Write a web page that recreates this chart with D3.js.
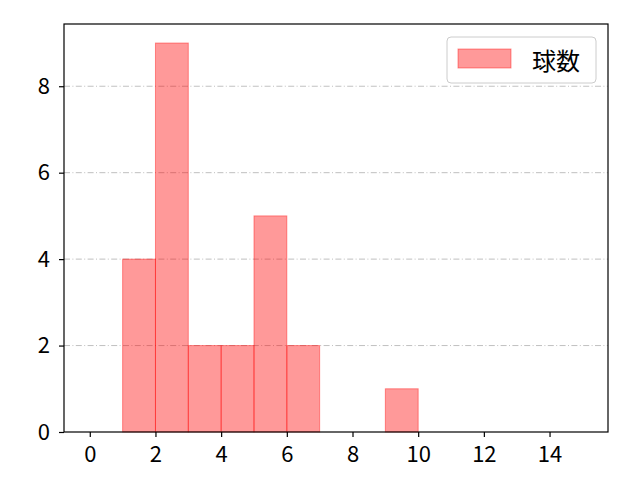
<!DOCTYPE html>
<html>
<head>
<meta charset="utf-8">
<script src="https://cdn.jsdelivr.net/npm/d3@7"></script>
<style>
  body { margin: 0; background: #fff; }
  text { font-family: "Noto Sans CJK JP", "DejaVu Sans", sans-serif; }
</style>
</head>
<body>
<svg id="chart"></svg>
<script>
// histogram bins (left edge, right edge) and counts
const binStarts = [1, 2, 3, 4, 5, 6, 9];
const binEnds = [2, 3, 4, 5, 6, 7, 10];
const counts = [4, 9, 2, 2, 5, 2, 1];
const xTicks = [0, 2, 4, 6, 8, 10, 12, 14];
const yTicks = [0, 2, 4, 6, 8];
const seriesName = '球数';

const width = 640;
const height = 480;
const margin = { top: 24, right: 32, bottom: 48, left: 64 };

const svg = d3.select('#chart')
  .attr('width', width)
  .attr('height', height);

const x = d3.scaleLinear()
  .domain([-0.785, 15.78])
  .range([margin.left, width - margin.right]);

const y = d3.scaleLinear()
  .domain([0, 9.44])
  .range([height - margin.bottom, margin.top]);

// grid (dash-dot)
svg.append('g')
  .selectAll('line')
  .data(yTicks.filter(d => d > 0))
  .join('line')
  .attr('x1', margin.left)
  .attr('x2', width - margin.right)
  .attr('y1', d => y(d))
  .attr('y2', d => y(d))
  .attr('stroke', '#b0b0b0')
  .attr('stroke-width', 0.8)
  .attr('stroke-dasharray', '6,2.4,1,2.4');

// bars
const bins = counts.map((c, i) => ({ x0: binStarts[i], x1: binEnds[i], n: c }));
svg.append('g')
  .selectAll('rect')
  .data(bins)
  .join('rect')
  .attr('x', d => x(d.x0))
  .attr('y', d => y(d.n))
  .attr('width', d => x(d.x1) - x(d.x0))
  .attr('height', d => y(0) - y(d.n))
  .attr('fill', 'rgba(255,0,0,0.4)')
  .attr('stroke', 'rgba(255,0,0,0.4)')
  .attr('stroke-width', 1);

// axes
const xAxis = svg.append('g')
  .attr('transform', `translate(0,${height - margin.bottom})`)
  .call(d3.axisBottom(x).tickValues(xTicks).tickSize(5).tickPadding(9).tickSizeOuter(0));

const yAxis = svg.append('g')
  .attr('transform', `translate(${margin.left},0)`)
  .call(d3.axisLeft(y).tickValues(yTicks).tickSize(5).tickPadding(9).tickSizeOuter(0));

[xAxis, yAxis].forEach(g => {
  g.select('.domain').remove();
  g.selectAll('line').attr('stroke', '#000').attr('stroke-width', 1.2);
  g.selectAll('text').attr('fill', '#000').style('font-size', '22px');
});

// frame
svg.append('rect')
  .attr('x', margin.left)
  .attr('y', margin.top)
  .attr('width', width - margin.left - margin.right)
  .attr('height', height - margin.top - margin.bottom)
  .attr('fill', 'none')
  .attr('stroke', '#000')
  .attr('stroke-width', 1.2);

// legend
const legend = svg.append('g');
legend.append('rect')
  .attr('x', 447).attr('y', 37)
  .attr('width', 149).attr('height', 46)
  .attr('rx', 4)
  .attr('fill', 'rgba(255,255,255,0.8)')
  .attr('stroke', '#cccccc');
legend.append('rect')
  .attr('x', 458).attr('y', 49)
  .attr('width', 53).attr('height', 19)
  .attr('fill', 'rgba(255,0,0,0.4)')
  .attr('stroke', 'rgba(255,0,0,0.4)');
legend.append('text')
  .attr('x', 532).attr('y', 59)
  .attr('dominant-baseline', 'central')
  .style('font-size', '24px')
  .text(seriesName);
</script>
</body>
</html>
